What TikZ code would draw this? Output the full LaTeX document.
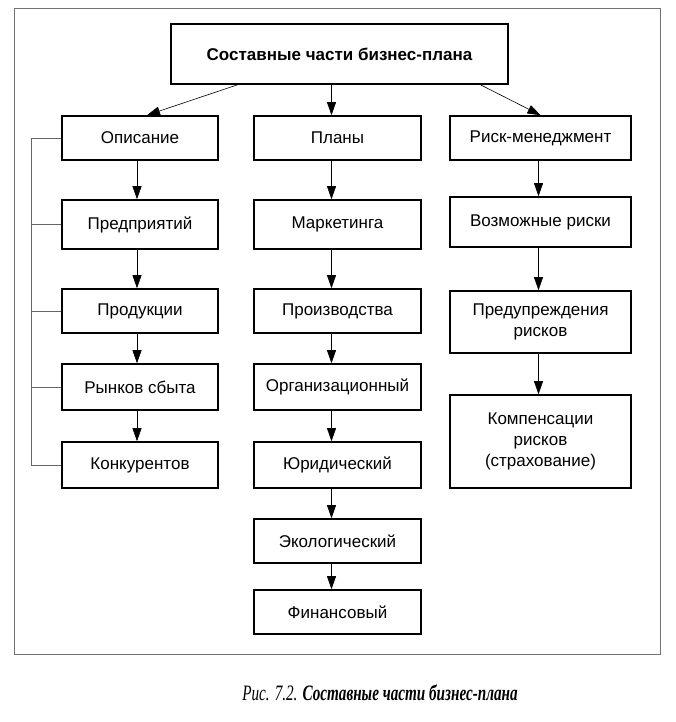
\documentclass[tikz,border=0pt]{standalone}
\usepackage{fontspec}
\setmainfont{Liberation Sans}
\newfontfamily\capfont{Liberation Serif}
\usetikzlibrary{arrows.meta}
\tikzset{
  bx/.style={draw=black, line width=1.6pt, rectangle, inner sep=0pt, align=center,
    font=\fontsize{17}{21}\selectfont},
  arr/.style={line width=0.6pt, -{Triangle[length=13pt,width=9pt]}},
  brk/.style={line width=0.6pt, draw=black!60},
  frame/.style={line width=0.8pt, draw=black!55}
}
\begin{document}
\begin{tikzpicture}[x=1pt,y=-1pt]
\useasboundingbox (0,0) rectangle (675,722);
\draw[frame] (14,8) rectangle (660,654);
% title
\node[bx, minimum width=337pt, minimum height=60pt, font=\fontsize{17}{21}\selectfont\bfseries] (title) at (339.5,54) {Составные части бизнес-плана};
% column 1
\node[bx, minimum width=156pt, minimum height=44pt] (opis) at (140,138) {Описание};
\node[bx, minimum width=156pt, minimum height=49pt] (pred) at (140,224.5) {Предприятий};
\node[bx, minimum width=156pt, minimum height=44pt] (prod) at (140,311) {Продукции};
\node[bx, minimum width=156pt, minimum height=46pt] (rynk) at (140,387) {Рынков сбыта};
\node[bx, minimum width=156pt, minimum height=46pt] (konk) at (140,465) {Конкурентов};
% column 2
\node[bx, minimum width=167pt, minimum height=44pt] (plan) at (337.5,138) {Планы};
\node[bx, minimum width=167pt, minimum height=49pt] (mark) at (337.5,224.5) {Маркетинга};
\node[bx, minimum width=167pt, minimum height=44pt] (proi) at (337.5,311) {Производства};
\node[bx, minimum width=167pt, minimum height=46pt] (orga) at (337.5,387) {Организационный};
\node[bx, minimum width=167pt, minimum height=46pt] (yuri) at (337.5,465) {Юридический};
\node[bx, minimum width=167pt, minimum height=44pt] (ekol) at (337.5,541) {Экологический};
\node[bx, minimum width=167pt, minimum height=44pt] (fina) at (337.5,612) {Финансовый};
% column 3
\node[bx, minimum width=181pt, minimum height=44pt] (risk) at (540.5,138) {Риск-менеджмент};
\node[bx, minimum width=181pt, minimum height=50pt] (vozm) at (540.5,222) {Возможные риски};
\node[bx, minimum width=181pt, minimum height=62pt] (prdu) at (540.5,322) {Предупреждения\\рисков};
\node[bx, minimum width=181pt, minimum height=93pt] (komp) at (540.5,441.5) {Компенсации\\рисков\\(страхование)};
% arrows from title
\draw[arr] ([xshift=-102pt]title.south) -- ([xshift=7pt]opis.north);
\draw[arr] ([xshift=-8pt]title.south) -- ([xshift=-6pt]plan.north);
\draw[arr] ([xshift=141pt]title.south) -- (risk.north);
% column arrows
\foreach \a/\b in {opis/pred, pred/prod, prod/rynk, rynk/konk}
  \draw[arr] ([xshift=-3pt]\a.south) -- ([xshift=-3pt]\b.north);
\foreach \a/\b in {plan/mark, mark/proi, proi/orga, orga/yuri, yuri/ekol, ekol/fina}
  \draw[arr] ([xshift=-6pt]\a.south) -- ([xshift=-6pt]\b.north);
\foreach \a/\b in {risk/vozm, vozm/prdu, prdu/komp}
  \draw[arr] ([xshift=-2pt]\a.south) -- ([xshift=-2pt]\b.north);
% bracket
\draw[brk] (opis.west) -- ++(-30,0) |- (konk.west);
\foreach \n in {pred, prod, rynk}
  \draw[brk] (\n.west) -- ++(-30,0);
% caption
\node[font=\fontsize{22}{24}\selectfont\capfont] (cap) at (380,693)
  {\scalebox{0.69}[1]{\itshape Рис. 7.2. \bfseries Составные части бизнес-плана}};
\end{tikzpicture}
\end{document}
